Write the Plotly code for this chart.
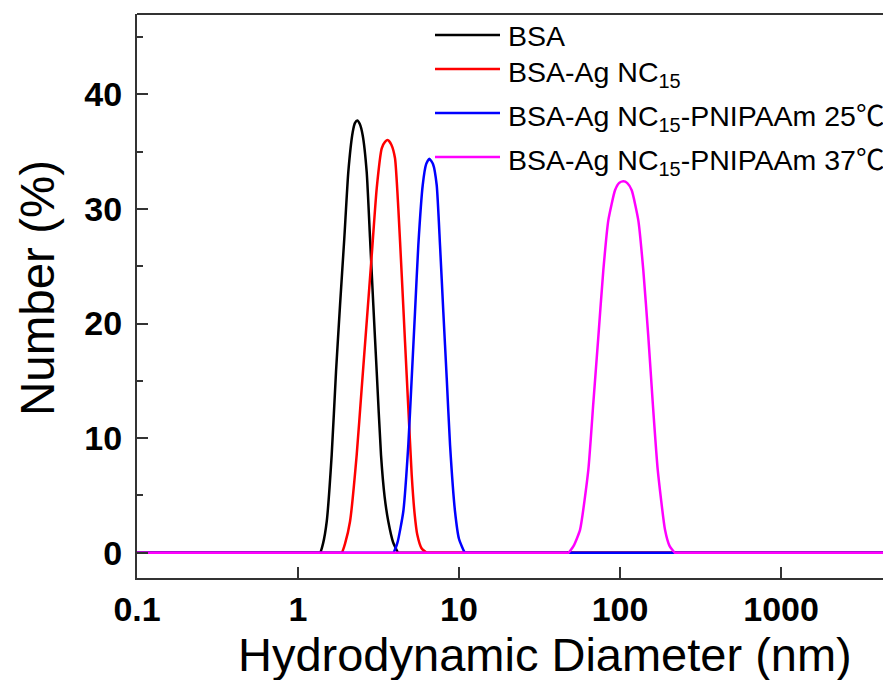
import plotly.graph_objects as go

# ---- data (diameter in nm, number in %) ----
bsa_d = [0.1, 1.330, 1.370, 1.430, 1.508, 1.619, 1.722, 1.824, 1.939, 2.053, 2.187, 2.260, 2.335,
         2.420, 2.523, 2.671, 2.801, 2.936, 3.082, 3.277, 3.450, 3.638, 3.900, 4.198, 4.300, 5000]
bsa_n = [0, 0, 0, 0.8, 2.73, 8.54, 15.79, 21.6, 27.44, 33.21, 36.70, 37.50, 37.72,
         37.40, 36.41, 33.21, 27.44, 21.6, 15.79, 8.54, 4.9, 2.73, 0.9, 0, 0, 0]

agnc_d = [0.1, 1.820, 1.868, 1.960, 2.104, 2.315, 2.487, 2.671, 2.870, 3.082, 3.311, 3.470, 3.622,
          3.800, 4.004, 4.198, 4.408, 4.620, 4.843, 5.084, 5.300, 5.508, 5.850, 6.300, 6.450, 5000]
agnc_n = [0, 0, 0, 0.8, 2.73, 8.54, 14.37, 20.15, 25.96, 31.79, 35.28, 35.85, 36.0,
          35.6, 34.41, 30.05, 24.22, 18.41, 12.63, 6.79, 3.4, 1.57, 0.4, 0, 0, 0]

p25_d = [0.1, 3.800, 3.908, 4.150, 4.508, 4.843, 5.084, 5.330, 5.588, 5.950, 6.250, 6.540, 6.900,
         7.270, 7.621, 7.989, 8.387, 8.795, 9.445, 10.00, 10.90, 11.20, 5000]
p25_n = [0, 0, 0, 0.9, 3.6, 9.41, 15.24, 21.02, 26.83, 32.06, 33.90, 34.38, 33.90,
         32.06, 26.83, 21.02, 15.24, 9.41, 3.6, 1.2, 0, 0, 0]

p37_d = [0.1, 46.00, 47.75, 51.50, 56.44, 63.56, 68.27, 73.33, 78.76, 84.58, 93.09, 98.50, 104.8,
         111.0, 118.2, 129.9, 139.5, 149.9, 159.7, 171.5, 190.3, 203.0, 219.6, 226.0, 5000]
p37_n = [0, 0, 0, 0.6, 2.0, 7.23, 13.07, 18.84, 24.65, 29.0, 31.62, 32.25, 32.4,
         32.25, 31.62, 29.0, 24.65, 18.84, 13.07, 7.23, 2.0, 0.6, 0, 0, 0]

series_names = ["BSA",
                "BSA-Ag NC<sub>15</sub>",
                "BSA-Ag NC<sub>15</sub>-PNIPAAm 25℃",
                "BSA-Ag NC<sub>15</sub>-PNIPAAm 37℃"]
series_colors = ["#000000", "#ff0000", "#0000ff", "#ff00ff"]

x_tickvals = [0.1, 1, 10, 100, 1000]
x_ticktext = ["0.1", "1", "10", "100", "1000"]
y_tickvals = [0, 10, 20, 30, 40]
y_minor = [5, 15, 25, 35, 45]

x_title = "Hydrodynamic Diameter (nm)"
y_title = "Number (%)"

FONT = "Arial, 'Liberation Sans', sans-serif"
LEG_FONT = "Arial, 'Liberation Sans', 'Noto Sans CJK SC', sans-serif"

# the page body adds an 8px offset; work in page pixels and convert
OFF = 8
W, H = 891 - OFF, 680 - OFF
PL, PR, PT, PB = 137, 891, 14, 578          # plot area in page pixels
L, T = PL - OFF, PT - OFF
R, B = 0, H - (PB - OFF)
pw, ph = W - L - R, H - T - B

def px_to_paper(x, y):
    return (x - PL) / pw, (PB - y) / ph

fig = go.Figure()
for d, n, name, col in zip([bsa_d, agnc_d, p25_d, p37_d],
                           [bsa_n, agnc_n, p25_n, p37_n],
                           series_names, series_colors):
    fig.add_trace(go.Scatter(x=d, y=n, mode="lines", name=name,
                             line=dict(color=col, width=2.5, shape="spline", smoothing=0.5),
                             showlegend=False))

axis_col = "#333333"
fig.update_xaxes(type="log", range=[-1, 3.683], automargin=False,
                 tickvals=x_tickvals, ticktext=x_ticktext,
                 ticks="inside", ticklen=11, tickwidth=2, tickcolor=axis_col,
                 showline=True, linewidth=2, linecolor=axis_col,
                 showgrid=False, zeroline=False,
                 tickfont=dict(family=FONT, size=34, color="black", weight="bold"),
                 ticklabelstandoff=0)
fig.update_yaxes(range=[-2.2, 47], tickvals=y_tickvals, automargin=False,
                 ticks="inside", ticklen=11, tickwidth=2, tickcolor=axis_col,
                 minor=dict(tickvals=y_minor, ticks="inside", ticklen=6,
                            tickwidth=2, tickcolor=axis_col),
                 showline=True, linewidth=2, linecolor=axis_col,
                 showgrid=False, zeroline=False,
                 tickfont=dict(family=FONT, size=34, color="black", weight="bold"),
                 ticklabelstandoff=6)

shapes = [dict(type="line", xref="paper", yref="paper", x0=0, x1=1, y0=1, y1=1,
               line=dict(color=axis_col, width=2))]
annotations = []

# legend (manual, to match long sample lines)
leg_y = [35, 69, 113, 157]
for name, col, yy in zip(series_names, series_colors, leg_y):
    x0, y0 = px_to_paper(435, yy)
    x1, _ = px_to_paper(500, yy)
    shapes.append(dict(type="line", xref="paper", yref="paper",
                       x0=x0, x1=x1, y0=y0, y1=y0, line=dict(color=col, width=2.5)))
    tx, _ = px_to_paper(506, yy)
    has_sub = "<sub>" in name
    annotations.append(dict(xref="paper", yref="paper", x=tx, y=y0,
                            xanchor="left", yanchor="middle",
                            yshift=-5 if has_sub else -1,
                            text=name, showarrow=False,
                            font=dict(family=LEG_FONT, size=28.5, color="black")))

# axis titles
xt, yt = px_to_paper(545, 654)
annotations.append(dict(xref="paper", yref="paper", x=xt, y=yt,
                        xanchor="center", yanchor="middle", text=x_title,
                        showarrow=False, font=dict(family=FONT, size=47, color="black")))
xt, yt = px_to_paper(37, 288)
annotations.append(dict(xref="paper", yref="paper", x=xt, y=yt,
                        xanchor="center", yanchor="middle", text=y_title, textangle=-90,
                        showarrow=False, font=dict(family=FONT, size=47.5, color="black")))

fig.update_layout(width=W, height=H, margin=dict(l=L, r=R, t=T, b=B, pad=0),
                  paper_bgcolor="white", plot_bgcolor="white",
                  shapes=shapes, annotations=annotations, showlegend=False)

fig.write_html("out.html")
